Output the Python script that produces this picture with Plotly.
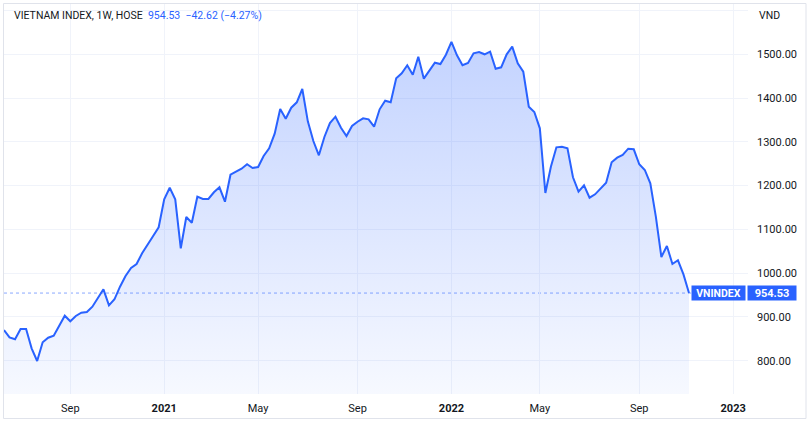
import pandas as pd
import plotly.graph_objects as go

# ---- data (weekly closes, VN-Index) ----
values = [
    870.1, 853.4, 848.9, 872.4, 872.4, 828.3, 799.3, 842.0, 852.5, 857.1,
    879.9, 902.8, 890.0, 902.1, 909.6, 911.2, 923.4, 942.5, 963.1, 926.5,
    940.3, 969.0, 993.5, 1011.8, 1020.9, 1045.4, 1066.6, 1084.9, 1104.8, 1168.7,
    1195.2, 1168.7, 1056.8, 1128.3, 1115.3, 1174.7, 1169.4, 1169.4, 1184.7, 1196.1,
    1163.2, 1224.9, 1231.8, 1238.6, 1248.7, 1240.2, 1242.5, 1267.6, 1285.2, 1318.6,
    1375.0, 1352.9, 1378.0, 1390.3, 1420.7, 1346.9, 1301.9, 1269.2, 1311.1, 1343.0,
    1357.4, 1332.3, 1313.3, 1336.2, 1346.0, 1353.8, 1351.5, 1334.6, 1374.3, 1394.0,
    1390.3, 1445.2, 1456.6, 1474.9, 1453.4, 1494.5, 1444.3, 1463.4, 1480.8, 1477.8,
    1499.1, 1528.6, 1497.7, 1474.9, 1480.1, 1502.3, 1505.3, 1500.0, 1505.9, 1467.1,
    1470.3, 1500.0, 1517.4, 1479.4, 1460.2, 1380.3, 1368.2, 1330.9, 1183.1, 1243.2,
    1287.5, 1288.9, 1285.2, 1219.0, 1186.1, 1200.7, 1172.4, 1180.1, 1194.5, 1206.6,
    1253.3, 1263.8, 1269.9, 1284.3, 1283.0, 1248.7, 1235.7, 1205.3, 1129.0, 1036.9,
    1062.0, 1020.9, 1029.4, 997.15, 954.53,
]
first_week = "2020-06-15"
holiday_weeks = ["2022-01-31"]          # Tet 2022: no trading that week
all_weeks = pd.date_range(first_week, periods=len(values) + len(holiday_weeks), freq="7D")
dates = [d for d in all_weeks if d.strftime("%Y-%m-%d") not in holiday_weeks]

x_tick_vals = ["2020-09-07", "2021-01-04", "2021-05-03", "2021-09-06",
               "2022-01-03", "2022-05-02", "2022-09-05", "2023-01-02"]
x_tick_text = ["Sep", "<b>2021</b>", "May", "Sep", "<b>2022</b>", "May", "Sep", "<b>2023</b>"]
y_tick_vals = [800, 900, 1000, 1100, 1200, 1300, 1400, 1500, 1600]
y_tick_text = ["800.00", "900.00", "1000.00", "1100.00", "1200.00",
               "1300.00", "1400.00", "1500.00", ""]

last_value = values[-1]
title_main = "VIETNAM INDEX, 1W, HOSE"
title_quote = "954.53&nbsp;&nbsp;−42.62 (−4.27%)"
symbol = "VNINDEX"

BLUE = "#2962FF"
TXT = "#131722"
FONT = "Roboto"
Y_MIN, Y_MAX = 723.9, 1614.9

fig = go.Figure()
fig.add_trace(go.Scatter(
    x=dates, y=values, mode="lines",
    line=dict(color=BLUE, width=2),
    fill="tozeroy",
    fillgradient=dict(type="vertical", start=Y_MIN, stop=max(values),
                      colorscale=[[0, "rgba(41,98,255,0.04)"], [1, "rgba(41,98,255,0.28)"]]),
    hoverinfo="skip", showlegend=False,
))

fig.update_layout(
    width=810, height=423,
    margin=dict(l=4, r=62, t=4, b=29),
    paper_bgcolor="white", plot_bgcolor="white",
    font=dict(family=FONT, size=11, color=TXT),
    xaxis=dict(
        type="date",
        range=["2020-06-15", "2023-01-20 18:40"],
        rangebreaks=[dict(values=holiday_weeks, dvalue=7 * 86400000)],
        tickmode="array", tickvals=x_tick_vals, ticktext=x_tick_text,
        showgrid=True, gridcolor="#F0F3FA", gridwidth=1,
        zeroline=False, showline=False, ticks="",
        ticklabelstandoff=6,
        tickfont=dict(family=FONT, size=11, color=TXT),
    ),
    yaxis=dict(
        side="right", range=[Y_MIN, Y_MAX],
        tickmode="array", tickvals=y_tick_vals, ticktext=y_tick_text,
        showgrid=True, gridcolor="#F0F3FA", gridwidth=1,
        zeroline=False, showline=False, ticks="",
        ticklabelstandoff=8,
        tickfont=dict(family=FONT, size=11, color=TXT),
    ),
    shapes=[
        dict(type="line", xref="paper", yref="y", x0=0, x1=1, y0=last_value, y1=last_value,
             line=dict(color="rgba(41,98,255,0.55)", width=1, dash="dot"), layer="below"),
        dict(type="rect", xref="paper", yref="paper",
             x0=-0.5 / 744, x1=(806 - 4) / 744, y0=(394 - 418.5) / 390, y1=1 + 0.5 / 390,
             line=dict(color="#E0E3EB", width=1), layer="above"),
    ],
    annotations=[
        dict(xref="paper", yref="paper", x=(11.5 - 4) / 744, y=1 - (15 - 4) / 390,
             xanchor="left", yanchor="middle", showarrow=False,
             text=f"{title_main}&nbsp;&nbsp;<span style='color:{BLUE}'>{title_quote}</span>",
             font=dict(family=FONT, size=10.5, color=TXT)),
        dict(xref="paper", yref="paper", x=(757 - 4) / 744, y=1 - (15 - 4) / 390,
             xanchor="left", yanchor="middle", showarrow=False, text="VND",
             font=dict(family=FONT, size=10.5, color=TXT)),
        dict(xref="paper", yref="y", x=(746 - 4) / 744, y=last_value,
             xanchor="right", yanchor="middle", showarrow=False,
             text=f"<b>{symbol}</b>", width=53, height=14, borderpad=0,
             bgcolor=BLUE, font=dict(family=FONT, size=10.5, color="white")),
        dict(xref="paper", yref="y", x=(747 - 4) / 744, y=last_value,
             xanchor="left", yanchor="middle", showarrow=False,
             text=f"<b>{last_value:.2f}</b>", width=48, height=14, borderpad=0,
             bgcolor=BLUE, font=dict(family=FONT, size=11, color="white")),
    ],
)

fig.write_html("out.html", config={"displayModeBar": False},
               post_script="document.body.style.margin='0px';document.body.style.overflow='hidden';")
